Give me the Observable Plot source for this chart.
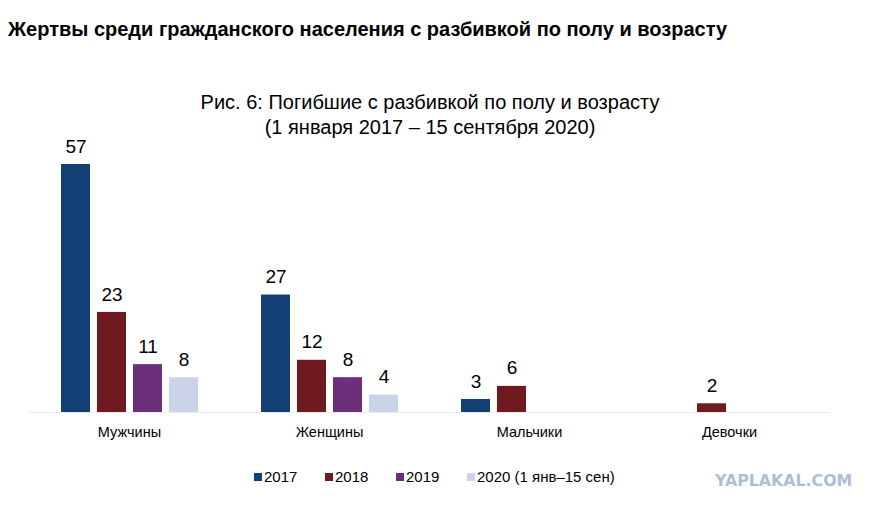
<!DOCTYPE html>
<html>
<head>
<meta charset="utf-8">
<script src="https://cdn.jsdelivr.net/npm/d3@7"></script>
<script src="https://cdn.jsdelivr.net/npm/@observablehq/plot@0.6"></script>
<style>
  html, body { margin: 0; padding: 0; background: #fff; }
  #wrap { position: relative; width: 878px; height: 510px; overflow: hidden; font-family: "Liberation Sans", Arial, sans-serif; color: #000; }
  #title { position: absolute; left: 8px; top: 18px; font-size: 20px; font-weight: bold; white-space: nowrap; }
  #sub { position: absolute; left: 0; width: 860px; top: 90px; text-align: center; font-size: 20px; line-height: 25px; }
  #chart { position: absolute; left: 0; top: 140px; }
  #base { position: absolute; left: 28px; width: 802px; top: 412px; height: 1px; background: #ececec; }
  #legend { position: absolute; top: 468px; left: 254px; font-size: 15px; display: flex; white-space: nowrap; }
  #legend .item { display: flex; align-items: center; width: 71px; flex-shrink: 0; }
  #legend .item:last-child { width: auto; }
  #legend .sw { width: 8px; height: 8px; margin-right: 2px; flex-shrink: 0; }
  #wm { position: absolute; left: 715px; top: 471px; font-family: "DejaVu Sans", sans-serif; font-weight: bold; font-size: 15.8px; color: #a9c0d7; }
</style>
</head>
<body>
<div id="wrap">
  <div id="title">Жертвы среди гражданского населения с разбивкой по полу и возрасту</div>
  <div id="sub">Рис. 6: Погибшие с разбивкой по полу и возрасту<br>(1 января 2017 – 15 сентября 2020)</div>
  <div id="base"></div>
  <div id="chart"></div>
  <div id="legend"></div>
  <div id="wm">YAPLAKAL.COM</div>
</div>
<script>
const categories = ["Мужчины", "Женщины", "Мальчики", "Девочки"];
const years = ["2017", "2018", "2019", "2020 (1 янв–15 сен)"];
const values2017 = [57, 27, 3, null];
const values2018 = [23, 12, 6, 2];
const values2019 = [11, 8, null, null];
const values2020 = [8, 4, null, null];
const colors = ["#133f77", "#6e1a1f", "#6b2f7c", "#cbd3e8"];

const series = [values2017, values2018, values2019, values2020];
const data = [];
categories.forEach((c, i) => {
  years.forEach((y, j) => {
    const v = series[j][i];
    if (v != null) data.push({category: c, year: y, value: v});
  });
});

const chart = Plot.plot({
  width: 878,
  height: 310,
  marginTop: 24,
  marginBottom: 38,
  marginLeft: 0.5,
  marginRight: 21.5,
  style: {fontFamily: "'Liberation Sans', Arial, sans-serif", fontSize: "14.5px", color: "#000", background: "transparent", overflow: "visible"},
  fx: {domain: categories, range: [0.5, 856.5], paddingInner: 0.28, paddingOuter: 0.28, align: 0.5, label: null, axis: "bottom", tickSize: 0, tickPadding: 14},
  x: {domain: years, padding: 0, axis: null},
  y: {domain: [0, 57], nice: false, axis: null},
  color: {domain: years, range: colors},
  marks: [
    Plot.barY(data, {fx: "category", x: "year", y: "value", fill: "year", insetLeft: 3.5, insetRight: 3.5}),
    Plot.text(data, {fx: "category", x: "year", y: "value", text: d => String(d.value), dy: -18, fontSize: 19, fill: "#000"})
  ]
});
document.getElementById("chart").appendChild(chart);

const leg = document.getElementById("legend");
years.forEach((y, i) => {
  const it = document.createElement("div");
  it.className = "item";
  const sw = document.createElement("span");
  sw.className = "sw";
  sw.style.background = colors[i];
  const lab = document.createElement("span");
  lab.textContent = y;
  it.appendChild(sw);
  it.appendChild(lab);
  leg.appendChild(it);
});
</script>
</body>
</html>
